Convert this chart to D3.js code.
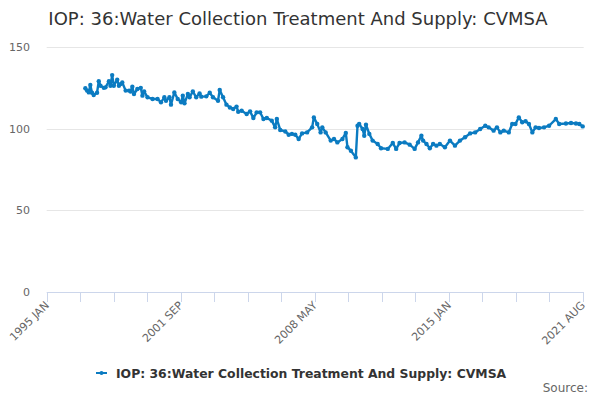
<!DOCTYPE html>
<html>
<head>
<meta charset="utf-8">
<script src="https://cdn.jsdelivr.net/npm/d3@7"></script>
<style>
  body { margin: 0; background: #fff; }
  svg { display: block; font-family: "DejaVu Sans", sans-serif; }
</style>
</head>
<body>
<svg id="chart" width="600" height="400"></svg>
<script>
// series (month, index value)
const months = [
  "1996-12","1997-01","1997-02","1997-03","1997-04","1997-05","1997-07","1997-08","1997-09","1997-11","1997-12",
  "1998-02","1998-03","1998-04","1998-05","1998-07","1998-08","1998-09","1998-10","1998-12",
  "1999-02","1999-03","1999-04","1999-05","1999-07","1999-09","1999-10","1999-11","2000-01",
  "2000-04","2000-07","2000-09","2000-11","2000-12",
  "2001-02","2001-03","2001-05","2001-07","2001-09","2001-10","2001-11","2002-01",
  "2002-02","2002-04","2002-06","2002-08","2002-09","2002-12",
  "2003-02","2003-04","2003-07","2003-08","2003-10","2003-12",
  "2004-02","2004-04","2004-06","2004-07","2004-09","2004-12",
  "2005-02","2005-04","2005-06","2005-08","2005-10","2005-12",
  "2006-03","2006-05","2006-06","2006-08","2006-11","2007-01",
  "2007-03","2007-05","2007-07","2007-09","2007-12",
  "2008-03","2008-04","2008-06","2008-08","2008-09","2008-11",
  "2009-02","2009-04","2009-06","2009-09","2009-11","2009-12",
  "2010-02","2010-05","2010-06","2010-07","2010-09","2010-10","2010-11","2011-01",
  "2011-03","2011-06","2011-08","2011-12",
  "2012-03","2012-05","2012-07","2012-10","2013-01",
  "2013-04","2013-06","2013-08","2013-09","2013-11","2014-01",
  "2014-03","2014-05","2014-07","2014-10","2015-01",
  "2015-04","2015-07","2015-10","2016-01",
  "2016-04","2016-07","2016-10","2016-12",
  "2017-03","2017-05","2017-07","2017-09","2017-12","2018-02",
  "2018-04","2018-06","2018-08","2018-10","2018-12","2019-02",
  "2019-04","2019-06","2019-09","2019-12",
  "2020-04","2020-06","2020-10","2021-01",
  "2021-04","2021-06","2021-08"
];
const values = [
  124.7,123.3,122.2,126.7,122.0,120.6,122.0,129.0,126.3,125.0,125.3,
  129.0,126.3,132.8,126.3,130.0,126.3,127.3,128.3,123.3,
  123.3,122.8,125.7,121.2,124.3,125.0,120.2,122.8,119.2,
  118.2,118.2,116.1,119.2,117.1,
  119.2,114.7,122.2,118.2,116.1,120.2,115.5,121.2,
  119.2,122.8,119.2,121.6,119.6,119.8,
  122.0,119.2,117.1,123.7,119.2,114.7,
  113.0,112.0,113.5,110.4,111.0,109.0,
  110.6,106.5,110.0,110.0,105.9,106.5,
  104.9,100.8,105.9,99.2,98.3,96.3,
  96.8,96.3,93.7,97.1,97.7,
  100.8,106.9,102.9,97.7,100.8,97.7,
  92.7,93.7,91.6,93.7,97.4,88.6,
  86.5,82.4,101.8,102.9,99.8,95.7,102.4,96.8,
  92.7,90.6,88.0,87.6,
  91.2,87.6,91.2,91.6,90.2,
  87.6,91.6,95.7,92.7,90.6,88.0,
  90.6,89.6,90.6,88.6,92.7,
  89.6,92.7,94.7,97.1,
  97.7,99.8,101.8,100.8,
  98.8,100.8,97.7,98.8,97.7,102.9,
  102.9,106.9,103.9,104.5,102.9,97.7,
  100.8,100.4,100.8,101.8,
  105.9,102.9,103.2,103.5,
  103.2,102.9,101.4
];
const yTicks = [0, 50, 100, 150];
const xStart = "1995-01", xEnd = "2021-08";
const tickLabels = ["1995 JAN", "2001 SEP", "2008 MAY", "2015 JAN", "2021 AUG"];
const seriesName = "IOP: 36:Water Collection Treatment And Supply: CVMSA";
const color = "#0b7bc1";

const parse = d3.timeParse("%Y-%m");
const data = months.map((m, i) => ({ date: parse(m), value: values[i] }));

const svg = d3.select("#chart");
const plotLeft = 46.7, plotRight = 582.7, plotTop = 47, plotBottom = 292;

const x = d3.scaleTime().domain([parse(xStart), parse(xEnd)]).range([plotLeft, plotRight]);
const y = d3.scaleLinear().domain([0, 150]).range([plotBottom, plotTop]);

// title
svg.append("text")
  .attr("x", 298).attr("y", 25)
  .attr("text-anchor", "middle")
  .style("font-size", "18px")
  .style("fill", "#333")
  .text(seriesName);

// gridlines + y labels
svg.append("g").selectAll("line").data(yTicks.filter(d => d > 0)).join("line")
  .attr("x1", plotLeft).attr("x2", plotRight + 1)
  .attr("y1", d => Math.round(y(d)) + 0.5).attr("y2", d => Math.round(y(d)) + 0.5)
  .attr("stroke", "#e6e6e6").attr("stroke-width", 1);

svg.append("g").selectAll("text").data(yTicks).join("text")
  .attr("x", 30).attr("y", d => y(d) + 4)
  .attr("text-anchor", "end")
  .style("font-size", "11px")
  .style("fill", "#666")
  .text(d => d);

// x axis: 17 evenly spaced ticks, every 4th one labelled
const t0 = x.domain()[0].getTime(), t1 = x.domain()[1].getTime();
const tickDates = d3.range(17).map(k => new Date(t0 + (t1 - t0) * k / 16));
const xAxis = svg.append("g");
xAxis.append("line")
  .attr("x1", plotLeft).attr("x2", plotRight + 1)
  .attr("y1", plotBottom + 0.5).attr("y2", plotBottom + 0.5)
  .attr("stroke", "#ccd6eb");
xAxis.selectAll("line.tick").data(tickDates).join("line")
  .attr("class", "tick")
  .attr("x1", d => Math.round(x(d)) + 0.5).attr("x2", d => Math.round(x(d)) + 0.5)
  .attr("y1", plotBottom).attr("y2", plotBottom + 10)
  .attr("stroke", "#ccd6eb");
xAxis.selectAll("text").data(tickLabels).join("text")
  .attr("transform", (d, i) => `translate(${x(tickDates[i * 4]) + 3},${plotBottom + 14}) rotate(-45)`)
  .attr("text-anchor", "end")
  .style("font-size", "11px")
  .style("fill", "#666")
  .text(d => d);

// series
const line = d3.line().x(d => x(d.date)).y(d => y(d.value));
svg.append("path").datum(data)
  .attr("d", line)
  .attr("fill", "none")
  .attr("stroke", color)
  .attr("stroke-width", 2.4)
  .attr("stroke-linejoin", "round");
svg.append("g").selectAll("circle").data(data).join("circle")
  .attr("cx", d => x(d.date)).attr("cy", d => y(d.value))
  .attr("r", 2.2).attr("fill", color);

// legend
const lg = svg.append("g").attr("transform", "translate(96,373)");
lg.append("line").attr("x1", 0).attr("x2", 11).attr("y1", 0).attr("y2", 0)
  .attr("stroke", color).attr("stroke-width", 2);
lg.append("circle").attr("cx", 5.5).attr("cy", 0).attr("r", 2).attr("fill", color);
lg.append("text").attr("x", 20).attr("y", 5)
  .style("font-size", "12.4px").style("font-weight", "bold").style("fill", "#333")
  .text(seriesName);

svg.append("text")
  .attr("x", 588).attr("y", 392)
  .attr("text-anchor", "end")
  .style("font-size", "12px").style("fill", "#666")
  .text("Source:");
</script>
</body>
</html>
